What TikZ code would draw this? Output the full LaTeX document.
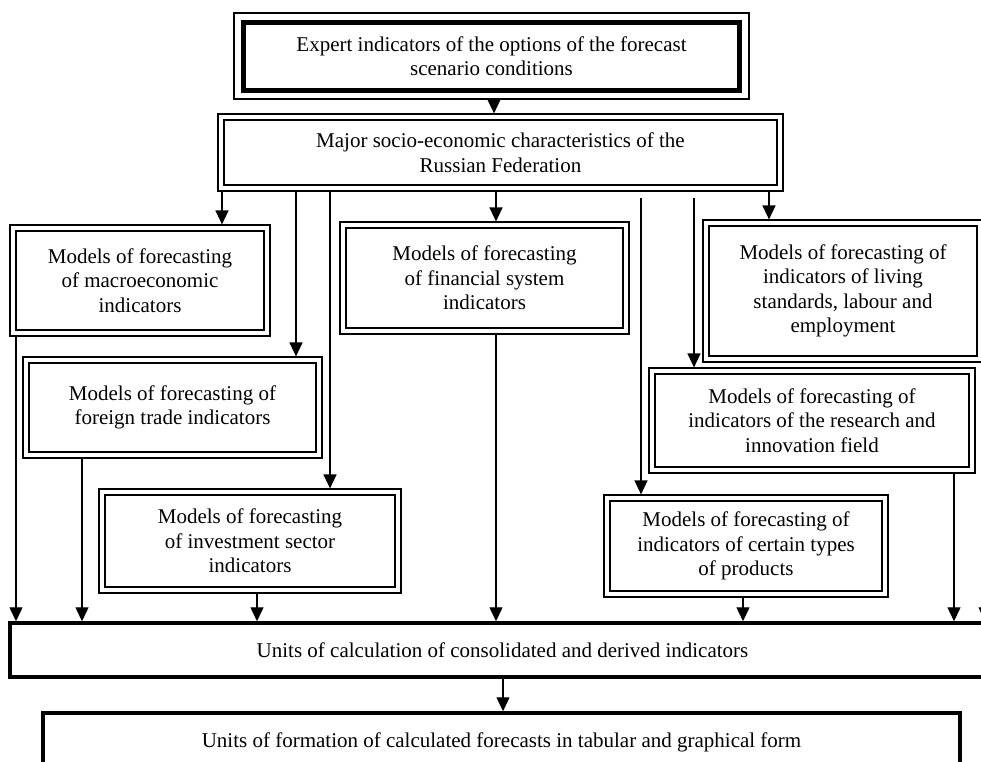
\documentclass[tikz,border=0pt]{standalone}
\usepackage{fontspec}
\setmainfont{Liberation Serif}
\usetikzlibrary{arrows.meta}
\tikzset{
  txt/.style={inner sep=0pt, align=center, font=\fontsize{21}{24.5}\selectfont},
  mbox/.style={txt, draw, line width=1.2pt,
    path picture={\draw[line width=2.4pt]
      ([shift={(6pt,-6pt)}]path picture bounding box.north west) rectangle
      ([shift={(-6pt,6pt)}]path picture bounding box.south east);}},
  topbox/.style={txt, draw, line width=1.2pt,
    path picture={\draw[line width=5pt]
      ([shift={(9.5pt,-9pt)}]path picture bounding box.north west) rectangle
      ([shift={(-9.5pt,9pt)}]path picture bounding box.south east);}},
  thickbox/.style={txt, draw, line width=3.5pt},
  arr/.style={line width=1.4pt, -{Triangle[length=14pt,width=13pt]}}
}
\begin{document}
\begin{tikzpicture}[x=1pt,y=-1pt]
\useasboundingbox (0,0) rectangle (981,761);

\node[topbox, minimum width=515pt, minimum height=86pt] (top) at (491.5,56)
  {Expert indicators of the options of the forecast\\scenario conditions};
\node[mbox, minimum width=565pt, minimum height=77pt] (maj) at (500.5,152.5)
  {Major socio-economic characteristics of the\\Russian Federation};

\node[mbox, minimum width=260pt, minimum height=111pt] (macro) at (140,280.5)
  {Models of forecasting\\of macroeconomic\\indicators};
\node[mbox, minimum width=299pt, minimum height=101pt] (foreign) at (172.5,407.5)
  {Models of forecasting of\\foreign trade indicators};
\node[mbox, minimum width=302pt, minimum height=104pt] (invest) at (250,541)
  {Models of forecasting\\of investment sector\\indicators};
\node[mbox, minimum width=289pt, minimum height=112pt] (fin) at (484.5,278)
  {Models of forecasting\\of financial system\\indicators};
\node[mbox, minimum width=280pt, minimum height=142pt] (living) at (843,291)
  {Models of forecasting of\\indicators of living\\standards, labour and\\employment};
\node[mbox, minimum width=326pt, minimum height=105pt] (research) at (812,420.5)
  {Models of forecasting of\\indicators of the research and\\innovation field};
\node[mbox, minimum width=284pt, minimum height=102pt] (certain) at (746,546)
  {Models of forecasting of\\indicators of certain types\\of products};

\node[thickbox, minimum width=985pt, minimum height=54pt] (cons) at (502.5,650)
  {Units of calculation of consolidated and derived indicators};
\node[thickbox, minimum width=917pt, minimum height=58pt] (form) at (501.5,742)
  {Units of formation of calculated forecasts in tabular and graphical form};

% arrows from top
\draw[arr] (top.south -| 494,0) -- (maj.north -| 494,0);
\draw[arr] (maj.south -| 222,0) -- (macro.north -| 222,0);
\draw[arr] (maj.south -| 296,0) -- (foreign.north -| 296,0);
\draw[arr] (maj.south -| 330,0) -- (invest.north -| 330,0);
\draw[arr] (maj.south -| 496,0) -- (fin.north -| 496,0);
\draw[arr, shorten <=6pt] (maj.south -| 641,0) -- (certain.north -| 641,0);
\draw[arr, shorten <=6pt] (maj.south -| 694,0) -- (research.north -| 694,0);
\draw[arr] (maj.south -| 769,0) -- (living.north -| 769,0);

% arrows to consolidated
\draw[arr] (macro.south -| 16,0) -- (cons.north -| 16,0);
\draw[arr] (foreign.south -| 82,0) -- (cons.north -| 82,0);
\draw[arr] (invest.south -| 257,0) -- (cons.north -| 257,0);
\draw[arr] (fin.south -| 496,0) -- (cons.north -| 496,0);
\draw[arr] (certain.south -| 743,0) -- (cons.north -| 743,0);
\draw[arr] (research.south -| 954,0) -- (cons.north -| 954,0);
\draw[arr] (living.south -| 985,0) -- (cons.north -| 985,0);

\draw[arr] (cons.south -| 503,0) -- (form.north -| 503,0);
\end{tikzpicture}
\end{document}
